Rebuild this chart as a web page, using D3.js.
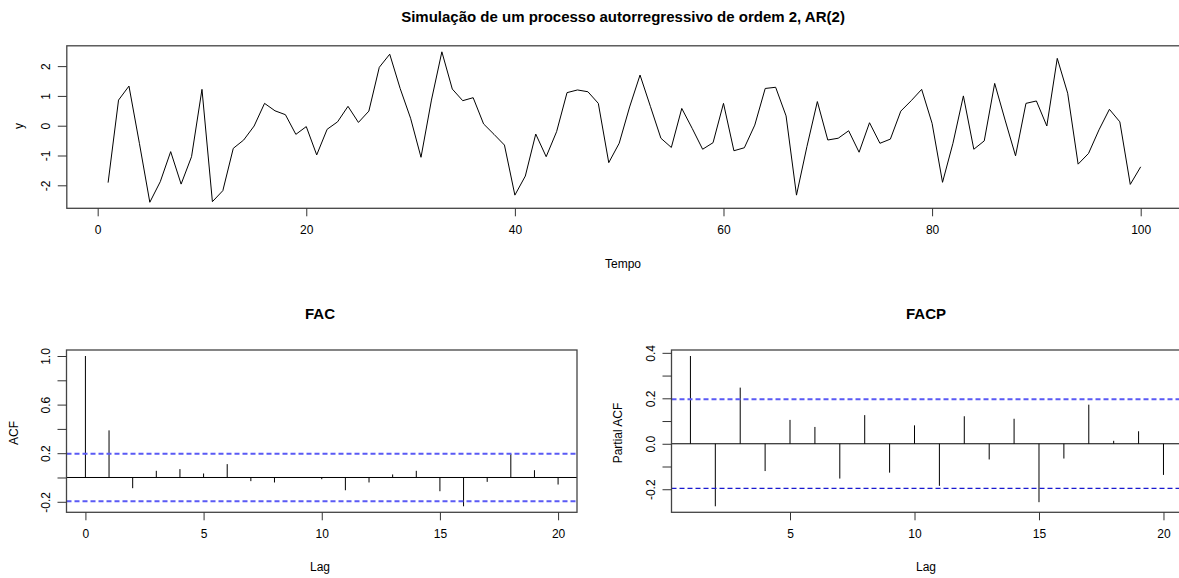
<!DOCTYPE html>
<html lang="pt">
<head>
<meta charset="UTF-8">
<title>AR(2)</title>
<style>
body { margin: 0; background: #fff; }
svg { display: block; }
text { font-family: "Liberation Sans", Arial, sans-serif; fill: #000; }
.tick text { font-size: 12px; }
.tick line { stroke: #333; }
.box { fill: none; stroke: #444; stroke-width: 1.3; }
</style>
</head>
<body>
<svg width="1179" height="578"></svg>
<script src="https://d3js.org/d3.v7.min.js"></script>
<script>
// serie simulada y_t, t = 1..100
var serie = [
  -1.91, 0.86, 1.33, -0.59, -2.57, -1.88, -0.87, -1.96, -1.04, 1.22,
  -2.55, -2.18, -0.76, -0.48, -0.01, 0.75, 0.50, 0.37, -0.29, -0.03,
  -0.98, -0.12, 0.13, 0.65, 0.11, 0.49, 1.96, 2.40, 1.25, 0.25,
  -1.06, 0.86, 2.48, 1.23, 0.84, 0.94, 0.06, -0.29, -0.65, -2.33,
  -1.69, -0.28, -1.04, -0.20, 1.11, 1.20, 1.14, 0.75, -1.24, -0.59,
  0.63, 1.70, 0.64, -0.42, -0.73, 0.58, -0.09, -0.79, -0.57, 0.75,
  -0.84, -0.74, 0.02, 1.25, 1.29, 0.33, -2.33, -0.70, 0.81, -0.48,
  -0.42, -0.17, -0.89, 0.10, -0.59, -0.45, 0.49, 0.84, 1.22, 0.08,
  -1.90, -0.59, 1.00, -0.79, -0.51, 1.42, 0.19, -1.01, 0.75, 0.83,
  -0.01, 2.26, 1.09, -1.29, -0.93, -0.14, 0.55, 0.13, -1.97, -1.38
];

// FAC, lags 0..20
var acfValores = [
  1.000, 0.388, -0.088, 0.055, 0.069, 0.033, 0.110, -0.030, -0.041, 0.003,
  -0.014, -0.105, -0.041, 0.025, 0.055, -0.113, -0.237, -0.036, 0.193, 0.060,
  -0.058
];

// FACP, lags 1..20
var pacfValores = [
  0.386, -0.275, 0.247, -0.120, 0.105, 0.074, -0.153, 0.126, -0.127, 0.081,
  -0.185, 0.121, -0.069, 0.110, -0.257, -0.065, 0.172, 0.013, 0.055, -0.137
];

var tempoTicks = [0, 20, 40, 60, 80, 100];
var serieTicks = [-2, -1, 0, 1, 2];
var lagTicksFac = [0, 5, 10, 15, 20];
var lagTicksFacp = [5, 10, 15, 20];
var acfTicks = [-0.2, 0, 0.2, 0.4, 0.6, 0.8, 1.0];
var acfRotulos = ["-0.2", "", "0.2", "", "0.6", "", "1.0"];
var pacfTicks = [-0.2, -0.1, 0, 0.1, 0.2, 0.3, 0.4];
var pacfRotulos = ["-0.2", "", "0.0", "", "0.2", "", "0.4"];

var n = serie.length;
var limite = 1.96 / Math.sqrt(n);

var svg = d3.select("svg");

// extensao de 4% como nos graficos do R
function estende(ext) {
  var d = (ext[1] - ext[0]) * 0.04;
  return [ext[0] - d, ext[1] + d];
}

function eixoX(g, escala, ticks, y) {
  g.append("g")
    .attr("transform", "translate(0," + y + ")")
    .call(d3.axisBottom(escala).tickValues(ticks).tickSize(8).tickPadding(9).tickSizeOuter(0).tickFormat(d3.format("d")))
    .call(function(a) { a.select(".domain").remove(); });
}

function eixoY(g, escala, ticks, rotulos, x) {
  var a = g.append("g")
    .attr("transform", "translate(" + x + ",0)")
    .call(d3.axisLeft(escala).tickValues(ticks).tickSize(9).tickSizeOuter(0)
      .tickFormat(function(d, i) { return rotulos[i]; }));
  a.select(".domain").remove();
  a.selectAll(".tick text")
    .attr("x", null).attr("dy", null)
    .attr("text-anchor", "middle")
    .attr("transform", "translate(-21,0) rotate(-90) translate(0,4)");
}

function rotuloY(texto, x, y) {
  svg.append("text")
    .attr("transform", "translate(" + x + "," + y + ") rotate(-90)")
    .attr("text-anchor", "middle")
    .attr("dy", "0.35em")
    .style("font-size", "12px")
    .text(texto);
}

// ---- serie temporal ----
var xT = d3.scaleLinear().domain(estende([1, n])).range([66.8, 1182]);
var yT = d3.scaleLinear().domain(estende(d3.extent(serie))).range([208.3, 45.8]);

svg.append("text")
  .attr("x", 623).attr("y", 22)
  .attr("text-anchor", "middle")
  .style("font-size", "15px").style("font-weight", "bold")
  .text("Simulação de um processo autorregressivo de ordem 2, AR(2)");

svg.append("path")
  .datum(serie)
  .attr("fill", "none")
  .attr("stroke", "#000")
  .attr("stroke-width", 1)
  .attr("d", d3.line().x(function(d, i) { return xT(i + 1); }).y(function(d) { return yT(d); }));

svg.append("rect").attr("class", "box")
  .attr("x", xT.range()[0]).attr("y", yT.range()[1])
  .attr("width", xT.range()[1] - xT.range()[0])
  .attr("height", yT.range()[0] - yT.range()[1]);

eixoX(svg, xT, tempoTicks, yT.range()[0]);
eixoY(svg, yT, serieTicks, serieTicks.map(String), xT.range()[0]);

svg.append("text").attr("x", 623).attr("y", 268)
  .attr("text-anchor", "middle").style("font-size", "12px").text("Tempo");
rotuloY("y", 19, 126);

// ---- correlogramas ----
function correlograma(opts) {
  var lags = opts.valores.map(function(d, i) { return i + opts.lag0; });
  var x = d3.scaleLinear().domain(estende(d3.extent(lags))).range(opts.xRange);
  var ext = d3.extent(opts.valores.concat([-limite, limite]));
  var y = d3.scaleLinear().domain(estende(ext)).range([512.3, 350]);

  svg.append("text")
    .attr("x", opts.centro).attr("y", 319)
    .attr("text-anchor", "middle")
    .style("font-size", "15px").style("font-weight", "bold")
    .text(opts.titulo);

  svg.append("line")
    .attr("x1", x.range()[0]).attr("x2", x.range()[1])
    .attr("y1", y(0)).attr("y2", y(0))
    .attr("stroke", "#000").attr("stroke-width", 1);

  svg.selectAll(null)
    .data(opts.valores)
    .enter().append("line")
    .attr("x1", function(d, i) { return x(lags[i]); })
    .attr("x2", function(d, i) { return x(lags[i]); })
    .attr("y1", y(0))
    .attr("y2", function(d) { return y(d); })
    .attr("stroke", "#000").attr("stroke-width", 1);

  svg.append("line")
    .attr("x1", x.range()[0]).attr("x2", x.range()[1])
    .attr("y1", y(limite)).attr("y2", y(limite))
    .attr("stroke", "#5a5af5").attr("stroke-width", 2)
    .attr("stroke-dasharray", "5,3");
  svg.append("line")
    .attr("x1", x.range()[0]).attr("x2", x.range()[1])
    .attr("y1", y(-limite)).attr("y2", y(-limite))
    .attr("stroke", opts.corInferior).attr("stroke-width", opts.larguraInferior)
    .attr("stroke-dasharray", "5,3");

  svg.append("rect").attr("class", "box")
    .attr("x", x.range()[0]).attr("y", 350)
    .attr("width", x.range()[1] - x.range()[0])
    .attr("height", 162.3);

  eixoX(svg, x, opts.lagTicks, 512.3);
  eixoY(svg, y, opts.yTicks, opts.yRotulos, x.range()[0]);

  svg.append("text").attr("x", opts.centro).attr("y", 571)
    .attr("text-anchor", "middle").style("font-size", "12px").text("Lag");
  rotuloY(opts.rotulo, opts.xRotulo, 433);
}

correlograma({
  titulo: "FAC", rotulo: "ACF", valores: acfValores, lag0: 0,
  xRange: [66.5, 577], centro: 320, xRotulo: 14,
  lagTicks: lagTicksFac, yTicks: acfTicks, yRotulos: acfRotulos,
  corInferior: "#5a5af5", larguraInferior: 2
});

correlograma({
  titulo: "FACP", rotulo: "Partial ACF", valores: pacfValores, lag0: 1,
  xRange: [671.5, 1182.4], centro: 926, xRotulo: 618,
  lagTicks: lagTicksFacp, yTicks: pacfTicks, yRotulos: pacfRotulos,
  corInferior: "#1a1ad0", larguraInferior: 1.2
});
</script>
</body>
</html>
